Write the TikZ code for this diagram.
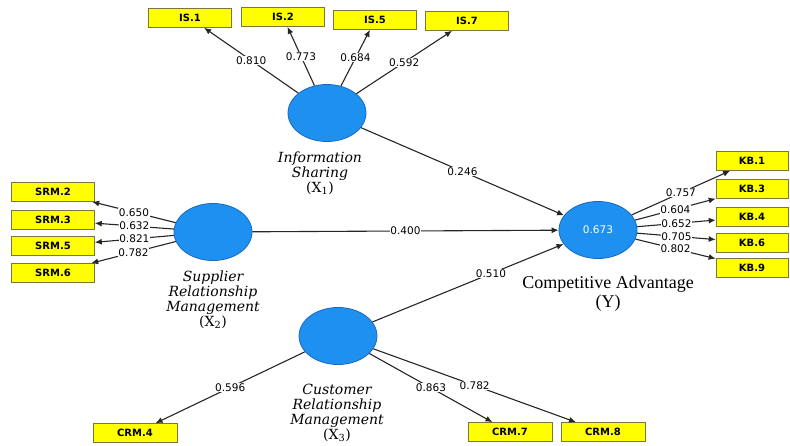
\documentclass[tikz,border=0pt]{standalone}
\usepackage{fontspec}
\usepackage{xcolor}
\usepackage{tikz}
\usetikzlibrary{shapes.geometric, positioning, arrows, arrows.meta}
\setmainfont{DejaVu Serif}
\newfontfamily\numfont{DejaVu Sans}
\newfontfamily\capfont{Liberation Serif}
\definecolor{latblue}{RGB}{30,144,240}
\definecolor{latedge}{RGB}{25,105,195}
\definecolor{indyellow}{RGB}{255,255,0}
\definecolor{indedge}{RGB}{120,120,60}

\begin{document}
\begin{tikzpicture}[x=1pt, y=-1pt,
    latent/.style={ellipse, fill=latblue, draw=latedge, line width=0.8pt,
      minimum width=78pt, minimum height=57pt, inner sep=0pt},
    indicator/.style={rectangle, fill=indyellow, draw=indedge, line width=0.6pt,
      minimum width=83pt, minimum height=19pt, inner sep=0pt,
      font=\numfont\bfseries\fontsize{10}{10}\selectfont},
    link/.style={-{Latex[length=7pt, width=6pt]}, draw=black!85, line width=1.1pt},
    coef/.style={fill=white, inner sep=0.6pt, font=\numfont\fontsize{10.5}{10.5}\selectfont},
    latname/.style={align=center, font=\itshape\fontsize{14}{15}\selectfont}]
     \useasboundingbox (0,0) rectangle (790,446);
     % latent variables
     \node[latent] (is) at (327,113) {};
     \node[latent] (srm) at (213,232) {};
     \node[latent] (crm) at (338,336) {};
     \node[latent, text=white, font=\numfont\fontsize{10.5}{10.5}\selectfont] (ca) at (598,230) {0.673};
     \node[latname] (isname) at (320,173) {Information\\Sharing\\{\upshape(X\textsubscript{1})}};
     \node[latname] (srmname) at (213,300) {Supplier\\Relationship\\Management\\{\upshape(X\textsubscript{2})}};
     \node[latname] (crmname) at (337,413) {Customer\\Relationship\\Management\\{\upshape(X\textsubscript{3})}};
     \node[align=center, font=\capfont\fontsize{18}{19}\selectfont] (caname) at (608,294) {Competitive Advantage\\(Y)};
     % indicators
     \node[indicator] (is1) at (190,18) {IS.1};
     \node[indicator] (is2) at (283,17) {IS.2};
     \node[indicator] (is5) at (375,20) {IS.5};
     \node[indicator] (is7) at (467,21) {IS.7};
     \node[indicator] (srm2) at (53,192) {SRM.2};
     \node[indicator] (srm3) at (53,220) {SRM.3};
     \node[indicator] (srm5) at (53,246) {SRM.5};
     \node[indicator] (srm6) at (53,273) {SRM.6};
     \node[indicator, minimum width=72pt] (kb1) at (752,161) {KB.1};
     \node[indicator, minimum width=72pt] (kb3) at (752,189) {KB.3};
     \node[indicator, minimum width=72pt] (kb4) at (752,217) {KB.4};
     \node[indicator, minimum width=72pt] (kb6) at (752,242.5) {KB.6};
     \node[indicator, minimum width=72pt] (kb9) at (752,267.5) {KB.9};
     \node[indicator, minimum width=84pt] (crm4) at (135,433) {CRM.4};
     \node[indicator, minimum width=84pt] (crm7) at (510,432) {CRM.7};
     \node[indicator, minimum width=84pt] (crm8) at (603,432) {CRM.8};
     % outer loadings
     \draw[link] (is) -- (is1) node[coef, midway] {0.810};
     \draw[link] (is) -- (is2) node[coef, midway] {0.773};
     \draw[link] (is) -- (is5) node[coef, midway] {0.684};
     \draw[link] (is) -- (is7) node[coef, midway] {0.592};
     \draw[link] (srm) -- (srm2) node[coef, midway] {0.650};
     \draw[link] (srm) -- (srm3) node[coef, midway] {0.632};
     \draw[link] (srm) -- (srm5) node[coef, midway] {0.821};
     \draw[link] (srm) -- (srm6) node[coef, midway] {0.782};
     \draw[link] (ca) -- (kb1) node[coef, midway] {0.757};
     \draw[link] (ca) -- (kb3) node[coef, midway] {0.604};
     \draw[link] (ca) -- (kb4) node[coef, midway] {0.652};
     \draw[link] (ca) -- (kb6) node[coef, midway] {0.705};
     \draw[link] (ca) -- (kb9) node[coef, midway] {0.802};
     \draw[link] (crm) -- (crm4) node[coef, midway] {0.596};
     \draw[link] (crm) -- (crm7) node[coef, midway] {0.863};
     \draw[link] (crm) -- (crm8) node[coef, midway] {0.782};
     % path coefficients
     \draw[link] (is) -- (ca) node[coef, midway] {0.246};
     \draw[link] (srm) -- (ca) node[coef, midway] {0.400};
     \draw[link] (crm) -- (ca) node[coef, pos=0.62] {0.510};
   \end{tikzpicture}
\end{document}
